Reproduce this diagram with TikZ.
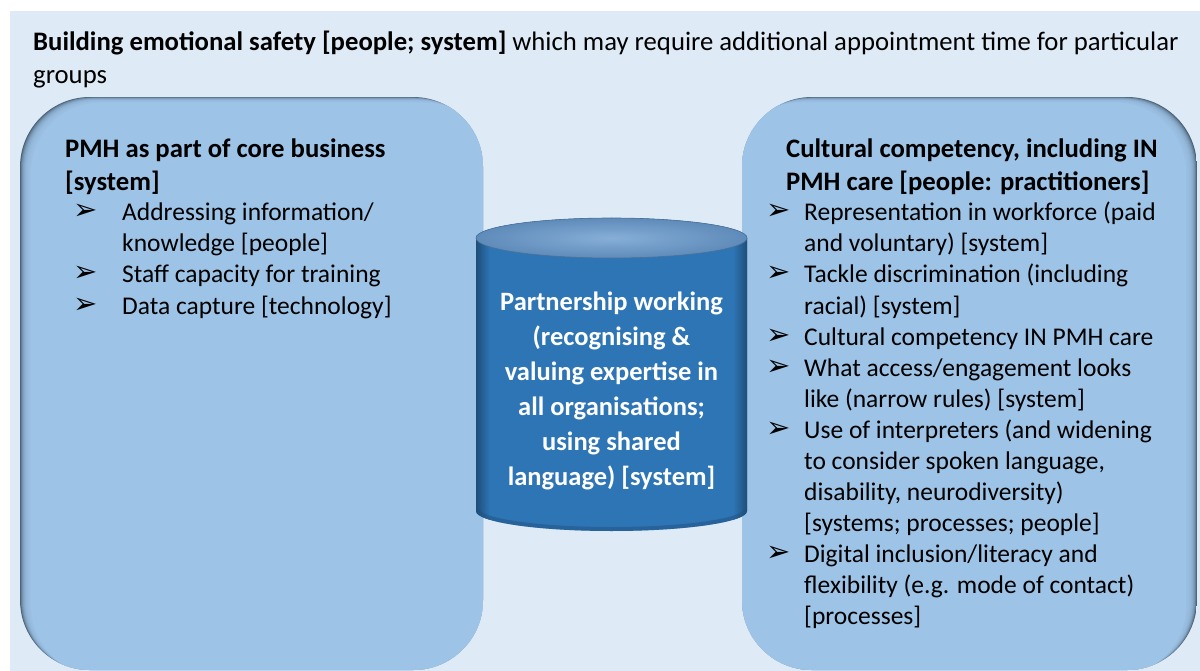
\documentclass[tikz,border=0pt]{standalone}
\usepackage{fontspec}
\setmainfont{Carlito}
\newfontfamily\arrowfont{DejaVu Sans}
\definecolor{pagebg}{HTML}{DEEBF7}
\definecolor{boxfill}{HTML}{9DC3E6}
\definecolor{boxshade}{HTML}{4C6378}
\definecolor{cylbody}{HTML}{2E75B6}
\definecolor{cyldark}{HTML}{1F4E79}
\definecolor{cyltopin}{HTML}{86AED7}
\definecolor{cyltopout}{HTML}{5F8BBA}

\begin{document}
\begin{tikzpicture}[x=1pt,y=-1pt,
    txt/.style={anchor=base west,inner sep=0pt,font=\fontsize{25.5}{31}\selectfont},
    head/.style={txt,font=\fontsize{26.7}{33}\selectfont\bfseries},
    bul/.style={anchor=base west,inner sep=0pt,font=\fontsize{29}{29}\selectfont\arrowfont},
    cyltxt/.style={anchor=base,inner sep=0pt,text=white,font=\fontsize{26.5}{35}\selectfont\bfseries},
    panel/.style={rounded corners=70pt}
    ]
    \useasboundingbox (0,0) rectangle (1200,671);
    \fill[white] (0,0) rectangle (1200,671);
    \fill[pagebg] (10,11) rectangle (1200,671);

    \node[txt,font=\fontsize{26.7}{33}\selectfont] (title1) at (33,51) {\textbf{Building emotional safety [people; system]} which may require additional appointment time for particular};
    \node[txt,font=\fontsize{26.7}{33}\selectfont] (title2) at (33,84) {groups};

    % left panel
    \begin{scope}
        \clip[panel] (20,97) rectangle (483,670);
        \fill[boxshade] (20,97) rectangle (483,670);
        \foreach \k in {1,...,10}
            \fill[boxfill,opacity=0.3,panel] ([shift={(\k,0.5*\k)}]20,97) rectangle ([shift={(\k,0.5*\k)}]483,670);
        \fill[boxfill,panel] (31,102.5) rectangle (494,676);
    \end{scope}

    % right panel
    \begin{scope}
        \clip[panel] (742,97) rectangle (1197,670);
        \fill[boxshade] (742,97) rectangle (1197,670);
        \foreach \k in {1,...,10}
            \fill[boxfill,opacity=0.3,panel] ([shift={(-\k,0.5*\k)}]742,97) rectangle ([shift={(-\k,0.5*\k)}]1197,670);
        \fill[boxfill,panel] (731,102.5) rectangle (1186,676);
    \end{scope}

    \node[head] (lhead1) at (65,158) {PMH as part of core business};
    \node[head] (lhead2) at (65,191) {[system]};
    \foreach \t [count=\i] in {{Addressing information/},{knowledge [people]},
        {Staff capacity for training},{Data capture [technology]}}
        \node[txt] (lt\i) at (122,{221+31*(\i-1)}) {\t};
    \foreach \i in {1,3,4}
        \node[bul] (lb\i) at (73,{220+31*(\i-1)}) {➢};

    \node[head] (rhead1) at (786,158) {Cultural competency, including IN};
    \node[head] (rhead2) at (786,191) {PMH care [people: practitioners]};
    \foreach \t [count=\i] in {{Representation in workforce (paid},{and voluntary) [system]},
        {Tackle discrimination (including},{racial) [system]},
        {Cultural competency IN PMH care},
        {What access/engagement looks},{like (narrow rules) [system]},
        {Use of interpreters (and widening},{to consider spoken language,},
        {disability, neurodiversity)},{[systems; processes; people]},
        {Digital inclusion/literacy and},{flexibility (e.g. mode of contact)},
        {[processes]}}
        \node[txt] (rt\i) at (804,{221+31*(\i-1)}) {\t};
    \foreach \i in {1,3,5,6,8,12}
        \node[bul] (rb\i) at (766,{220+31*(\i-1)}) {➢};

    % cylinder
    \begin{scope}
        \clip (476,238) -- (476,511) arc[start angle=180,end angle=360,x radius=135.5pt,y radius=20pt]
            -- (747,238) arc[start angle=0,end angle=180,x radius=135.5pt,y radius=20pt] -- cycle;
        \fill[cylbody] (470,200) rectangle (750,540);
        \shade[left color=cyldark,right color=cylbody] (476,200) rectangle (490,540);
        \shade[left color=cylbody,right color=cyldark] (733,200) rectangle (747,540);
        \draw[cyldark,line width=8pt,opacity=0.45] (476,511) arc[start angle=180,end angle=360,x radius=135.5pt,y radius=20pt];
    \end{scope}
    \shade[inner color=cyltopin,outer color=cyltopout] (611.5,238) ellipse[x radius=135.5pt,y radius=20pt];
    \draw[cyldark!80,line width=0.6pt] (611.5,238) ellipse[x radius=135.5pt,y radius=20pt];
    \foreach \t [count=\i] in {{Partnership working},{(recognising \&},{valuing expertise in},
        {all organisations;},{using shared},{language) [system]}}
        \node[cyltxt] (ct\i) at (611.5,{310+35*(\i-1)}) {\t};
\end{tikzpicture}
\end{document}
